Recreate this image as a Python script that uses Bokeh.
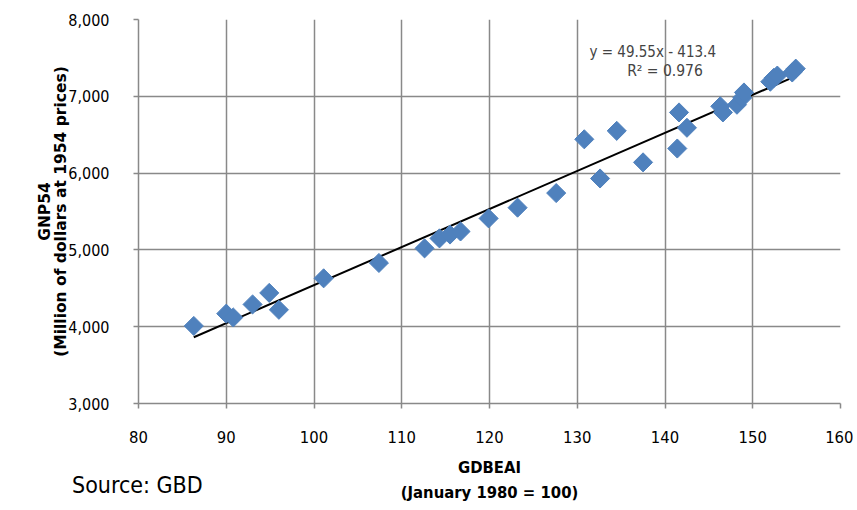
import numpy as np
from bokeh.plotting import figure
from bokeh.layouts import column
from bokeh.models import ColumnDataSource, Label, NumeralTickFormatter, FixedTicker, Range1d, Div
from bokeh.embed import file_html
from bokeh.resources import INLINE

# Data
gdbeai = [86.3, 90.0, 90.8, 93.0, 94.9, 96.0, 101.1, 107.4, 112.6, 114.3, 115.5, 116.7,
          119.9, 123.2, 127.6, 130.8, 132.6, 134.5, 137.5, 141.4, 141.6, 142.5,
          146.3, 146.6, 148.2, 148.8, 149.0, 152.0, 152.4, 152.8, 154.5, 154.9]
gnp54 = [4010, 4170, 4120, 4290, 4440, 4220, 4630, 4830, 5020, 5150, 5200, 5240,
         5410, 5550, 5740, 6440, 5930, 6550, 6140, 6320, 6790, 6590,
         6870, 6790, 6890, 6980, 7050, 7190, 7240, 7270, 7310, 7360]
slope = 49.55
intercept = -413.4
r_squared = 0.976
x_ticks = [80, 90, 100, 110, 120, 130, 140, 150, 160]
y_ticks = [3000, 4000, 5000, 6000, 7000, 8000]
source_text = "Source: GBD"

FONT = "DejaVu Sans Condensed"
FONT_WIDE = "DejaVu Sans"
BLUE = "#4F81BD"
GRID = "#898989"

p = figure(width=853, height=510, output_backend="svg", toolbar_location=None,
           x_range=Range1d(80, 160), y_range=Range1d(3000, 8000),
           min_border_left=138, min_border_right=13, min_border_top=19, min_border_bottom=107)
p.outline_line_color = None
p.background_fill_color = "white"

src = ColumnDataSource(dict(x=gdbeai, y=gnp54))
xl = np.array([min(gdbeai), max(gdbeai)])
p.line(xl, slope * xl + intercept, line_color="black", line_width=2)
p.scatter("x", "y", source=src, marker="square", size=13.5, angle=np.pi / 4,
          fill_color=BLUE, line_color=BLUE)

for ax in (p.xaxis, p.yaxis):
    ax.axis_line_color = GRID
    ax.axis_line_width = 1.5
    ax.major_tick_line_color = GRID
    ax.major_tick_line_width = 1.5
    ax.major_tick_out = 5
    ax.major_tick_in = 0
    ax.minor_tick_line_color = None
    ax.major_label_text_font = FONT
    ax.major_label_text_color = "black"
    ax.axis_label_text_font_style = "bold"
    ax.axis_label_text_color = "black"

p.xaxis.major_label_text_font_size = "16.5px"
p.yaxis.major_label_text_font_size = "16px"
p.xaxis.axis_label_text_font = FONT
p.xaxis.axis_label_text_font_size = "16.5px"
p.yaxis.axis_label_text_font = FONT_WIDE
p.yaxis.axis_label_text_font_size = "15.5px"

p.xaxis.ticker = FixedTicker(ticks=x_ticks)
p.yaxis.ticker = FixedTicker(ticks=y_ticks)
p.yaxis.formatter = NumeralTickFormatter(format="0,0")
p.xaxis.major_label_standoff = 22
p.yaxis.major_label_standoff = 24
p.xaxis.axis_label = "GDBEAI\n(January 1980 = 100)"
p.yaxis.axis_label = "GNP54\n(Million of dollars at 1954 prices)"
p.xaxis.axis_label_text_line_height = 1.35
p.yaxis.axis_label_text_line_height = 0.92
p.xaxis.axis_label_standoff = 12
p.yaxis.axis_label_standoff = -5

p.grid.grid_line_color = GRID
p.grid.grid_line_width = 1.5
p.xgrid.ticker = FixedTicker(ticks=x_ticks)
p.ygrid.ticker = FixedTicker(ticks=y_ticks)

p.add_layout(Label(x=138.6, y=7580, text=f"y = {slope}x - {abs(intercept)}",
                   text_align="center", text_baseline="middle", text_font=FONT,
                   text_font_size="15px"))
p.add_layout(Label(x=140.0, y=7335, text=f"R\u00b2 = {r_squared}",
                   text_align="center", text_baseline="middle", text_font=FONT,
                   text_font_size="15.5px"))

note = Div(text=source_text, margin=(-38, 0, 0, 72),
           styles={"font-family": FONT, "font-size": "23px", "line-height": "27px",
                   "color": "black"})

open("out.html", "w").write(file_html(column(p, note), INLINE))
